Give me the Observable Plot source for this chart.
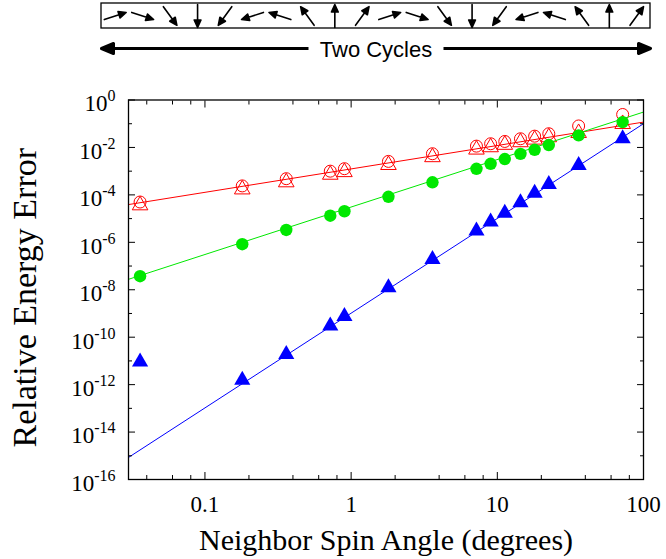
<!DOCTYPE html>
<html><head><meta charset="utf-8">
<script src="https://cdn.jsdelivr.net/npm/d3@7"></script>
<script src="https://cdn.jsdelivr.net/npm/@observablehq/plot@0.6"></script>
<style>
html,body{margin:0;padding:0;background:#fff;}
#wrap{position:relative;width:666px;height:559px;overflow:hidden;}
#wrap svg{position:absolute;left:0;top:0;}
</style></head><body><div id="wrap"></div>
<script>
// ---- data ----
const angles = [0.036, 0.18, 0.36, 0.72, 0.9, 1.8, 3.6, 7.2, 9, 11.25, 14.4, 18, 22.5, 36, 72];
const redCircleErr   = [5.0e-5, 2.39e-4, 4.81e-4, 1.00e-3, 1.27e-3, 2.58e-3, 5.43e-3, 1.135e-2, 1.43e-2, 1.79e-2, 2.32e-2, 2.99e-2, 3.78e-2, 8.04e-2, 0.245];
const redTriangleErr = [3.63e-5, 1.70e-4, 3.39e-4, 7.08e-4, 9.12e-4, 1.82e-3, 3.89e-3, 8.13e-3, 1.02e-2, 1.29e-2, 1.66e-2, 2.14e-2, 2.69e-2, 4.07e-2, 9.77e-2];
const greenErr = [3.72e-8, 8.32e-7, 3.31e-6, 1.32e-5, 2.04e-5, 8.32e-5, 3.39e-4, 1.26e-3, 2.04e-3, 3.24e-3, 5.37e-3, 7.94e-3, 1.26e-2, 3.24e-2, 0.117];
const blueErr  = [9.12e-12, 1.55e-12, 1.91e-11, 3.02e-10, 7.59e-10, 1.23e-8, 1.91e-7, 3.02e-6, 7.24e-6, 1.70e-5, 4.68e-5, 1.20e-4, 2.75e-4, 1.74e-3, 2.34e-2];
// fitted straight lines (end points at the frame edges)
const fitAngles = [0.03, 100];
const redFitErr   = [3.9e-5, 0.117];
const greenFitErr = [2.75e-8, 0.31];
const blueFitErr  = [8.5e-16, 0.1];
// ticks
const xMajorTicks = [0.1, 1, 10, 100];
const xMinorTicks = [0.04, 0.06, 0.08, 0.2, 0.4, 0.6, 0.8, 2, 4, 6, 8, 20, 40, 60, 80];
const yMajorTicks = [1e-16, 1e-14, 1e-12, 1e-10, 1e-8, 1e-6, 1e-4, 1e-2, 1];
const yMinorTicks = [1e-15, 1e-13, 1e-11, 1e-9, 1e-7, 1e-5, 1e-3, 1e-1];
const xTitle = "Neighbor Spin Angle (degrees)";
const yTitle = "Relative Energy Error";
// spin diagram: direction of each spin (degrees clockwise from up)
const spinRotate = [72, 108, 144, 180, 216, 252, 288, 324, 0, 36, 72, 108, 144, 180, 216, 252, 288, 324, 0, 36];
const cycleLabel = "Two Cycles";
const cycleArrows = [{end: 0, dir: 270}, {end: 20, dir: 90}];

const RED = "#ff0000", GREEN = "#00e800", BLUE = "#0000ff";
const serif = "'Liberation Serif','Times New Roman',serif";
const sans = "'Liberation Sans',Arial,sans-serif";

const rows = (ys) => angles.map((a, i) => ({angle: a, err: ys[i]}));
const fit = (ys) => fitAngles.map((a, i) => ({angle: a, err: ys[i]}));
const expFmt = (d) => "E" + String(Math.round(Math.log10(d)));

const mainPlot = Plot.plot({
  width: 666, height: 559,
  marginLeft: 128, marginRight: 23, marginTop: 99.5, marginBottom: 80,
  style: {fontFamily: serif, background: "transparent", color: "black"},
  x: {type: "log", domain: [0.03, 100]},
  y: {type: "log", domain: [1e-16, 1]},
  marks: [
    Plot.line(fit(redFitErr), {x: "angle", y: "err", stroke: RED, strokeWidth: 1}),
    Plot.dot(rows(redTriangleErr), {x: "angle", y: "err", symbol: "triangle", r: 5.8, stroke: RED, fill: "none", strokeWidth: 1}),
    Plot.dot(rows(redCircleErr), {x: "angle", y: "err", symbol: "circle", r: 6, stroke: RED, fill: "none", strokeWidth: 1}),
    Plot.line(fit(greenFitErr), {x: "angle", y: "err", stroke: GREEN, strokeWidth: 1}),
    Plot.dot(rows(greenErr), {x: "angle", y: "err", symbol: "circle", r: 6.2, fill: GREEN, stroke: "none"}),
    Plot.line(fit(blueFitErr), {x: "angle", y: "err", stroke: BLUE, strokeWidth: 1}),
    Plot.dot(rows(blueErr), {x: "angle", y: "err", symbol: "triangle", r: 6, fill: BLUE, stroke: "none"}),
    Plot.frame({stroke: "black", strokeWidth: 1.3}),
    // inward ticks on all four sides
    Plot.axisX({ticks: xMajorTicks, anchor: "bottom", tickSize: -7, tickFormat: () => "", label: null}),
    Plot.axisX({ticks: xMinorTicks, anchor: "bottom", tickSize: -4, tickFormat: () => "", label: null}),
    Plot.axisX({ticks: xMajorTicks, anchor: "top", tickSize: -7, tickFormat: () => "", label: null}),
    Plot.axisX({ticks: xMinorTicks, anchor: "top", tickSize: -4, tickFormat: () => "", label: null}),
    Plot.axisY({ticks: yMajorTicks, anchor: "left", tickSize: -7, tickFormat: () => "", label: null}),
    Plot.axisY({ticks: yMinorTicks, anchor: "left", tickSize: -4, tickFormat: () => "", label: null}),
    Plot.axisY({ticks: yMajorTicks, anchor: "right", tickSize: -7, tickFormat: () => "", label: null}),
    Plot.axisY({ticks: yMinorTicks, anchor: "right", tickSize: -4, tickFormat: () => "", label: null}),
    // tick labels
    Plot.axisX({ticks: xMajorTicks, anchor: "bottom", tickSize: 0, tickPadding: 16, fontSize: 23, tickFormat: (d) => String(d), label: null}),
    Plot.axisY({ticks: yMajorTicks, anchor: "left", tickSize: 0, tickPadding: 13, dy: 4, fontSize: 23, tickFormat: expFmt, label: null}),
    // axis titles
    Plot.text([xTitle], {frameAnchor: "bottom", dy: 61, textAnchor: "middle", lineAnchor: "middle", text: (d) => d, fontSize: 30, fill: "black"}),
    Plot.text([yTitle], {frameAnchor: "left", dx: -103, dy: 8, rotate: -90, textAnchor: "middle", lineAnchor: "middle", text: (d) => d, fontSize: 34, fill: "black"})
  ]
});

// turn "E<exponent>" tick labels into 10 with a superscript
d3.select(mainPlot).selectAll('g[aria-label="y-axis tick label"] text').each(function () {
  const t = d3.select(this);
  const s = t.text();
  if (!s.startsWith("E")) return;
  t.text("10");
  t.append("tspan").attr("dy", -10).attr("font-size", 16).text(s.slice(1));
});

// ---- spin diagram above the chart ----
const smallArrow = {
  draw(ctx, l) {
    const h = 7.5, w = 3.4;
    ctx.moveTo(0, 0); ctx.lineTo(0, -l + h);
    ctx.moveTo(0, -l); ctx.lineTo(w, -l + h); ctx.lineTo(-w, -l + h); ctx.closePath();
  }
};
const bigArrow = {
  draw(ctx, l) {
    const h = 12, w = 5;
    ctx.moveTo(0, 0); ctx.lineTo(0, -l + h);
    ctx.moveTo(0, -l); ctx.lineTo(w, -l + h); ctx.lineTo(-w, -l + h); ctx.closePath();
  }
};
function spinPlot(s1, s2) {
  return Plot.plot({
    width: 666, height: 70, margin: 0,
    style: {background: "transparent"},
    x: {domain: [0, 20], range: [101, 650], axis: null},
    y: {domain: [0, 1], range: [28, 3], axis: null},
    marks: [
      Plot.rect([{a: 0}], {x1: 0, x2: 20, y1: 0, y2: 1, stroke: "black", fill: "none", strokeWidth: 1.3}),
      Plot.vector(spinRotate, {x: (d, i) => i + 0.5, y: 0.5, rotate: (d) => d, length: 23, anchor: "middle", shape: s1, stroke: "black", fill: "black", strokeWidth: 1.6}),
      Plot.vector(cycleArrows, {x: "end", y: -0.8, rotate: "dir", length: 207, anchor: "end", shape: s2, stroke: "black", fill: "black", strokeWidth: 3, strokeLinecap: "butt"}),
      Plot.text([cycleLabel], {x: 10, y: -0.8, dy: 1.5, text: (d) => d, fontSize: 22, fontFamily: sans, fill: "black"})
    ]
  });
}
let spinSvg;
try { spinSvg = spinPlot(smallArrow, bigArrow); } catch (e) { spinSvg = spinPlot("arrow", "arrow"); }

const wrap = document.getElementById("wrap");
wrap.appendChild(mainPlot);
wrap.appendChild(spinSvg);
</script></body></html>
